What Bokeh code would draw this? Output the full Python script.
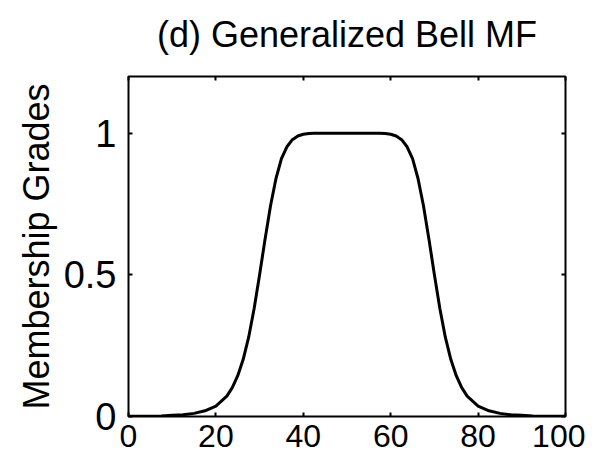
from bokeh.plotting import figure
from bokeh.models import LinearAxis, FixedTicker, Range1d, CustomJSTickFormatter
from bokeh.embed import file_html
from bokeh.resources import INLINE

# Values
x_vals = [0, 2.5, 5, 7.5, 10, 12.5, 15, 17.5, 20, 22.5, 23.75, 25, 26.25, 27.5, 28.75,
          30, 31.25, 32.5, 33.75, 35, 36.25, 37.5, 38.75, 40, 41.25, 42.5, 45, 50,
          55, 57.5, 58.75, 60, 61.25, 62.5, 63.75, 65, 66.25, 67.5, 68.75, 70, 71.25,
          72.5, 73.75, 75, 76.25, 77.5, 80, 82.5, 85, 87.5, 90, 92.5, 95, 97.5, 100]
mu_vals = [0.001, 0.001, 0.001, 0.002, 0.004, 0.006, 0.011, 0.02, 0.037, 0.072, 0.102, 0.144, 0.202, 0.28, 0.381,
           0.5, 0.626, 0.744, 0.84, 0.91, 0.952, 0.977, 0.99, 0.996, 0.999, 1.0, 1.0, 1.0,
           1.0, 1.0, 0.999, 0.996, 0.99, 0.977, 0.952, 0.91, 0.84, 0.744, 0.626, 0.5, 0.381,
           0.28, 0.202, 0.144, 0.102, 0.072, 0.037, 0.02, 0.011, 0.006, 0.004, 0.002, 0.001, 0.001, 0.001]
x_ticks = [0, 20, 40, 60, 80, 100]
y_ticks = [0, 0.5, 1]
y_tick_labels = {0: "0", 0.5: "0.5", 1: "1"}
title_text = "(d) Generalized Bell MF"

FONT = "Liberation Sans"

p = figure(width=585, height=454, output_backend="svg", toolbar_location=None,
           x_range=Range1d(0, 100), y_range=Range1d(0, 1.2),
           min_border_left=128, min_border_right=20, min_border_top=76, min_border_bottom=38)

p.xgrid.visible = False
p.ygrid.visible = False
p.outline_line_color = "black"
p.outline_line_width = 2
p.outline_line_alpha = 1.0
p.background_fill_color = "white"
p.border_fill_color = "white"

p.line(x_vals, mu_vals, line_color="black", line_width=3)

xa = p.xaxis[0]
xa.ticker = FixedTicker(ticks=x_ticks)
xa.major_label_text_font = FONT
xa.major_label_text_font_size = "32px"
xa.major_label_text_color = "black"
xa.major_label_standoff = 8
xa.major_tick_in = 4
xa.major_tick_out = 0
xa.major_tick_line_width = 2
xa.minor_tick_line_color = None
xa.axis_line_color = None

ya = p.yaxis[0]
ya.ticker = FixedTicker(ticks=y_ticks)
ya.major_label_overrides = y_tick_labels
ya.major_label_text_font = FONT
ya.major_label_text_font_size = "38px"
ya.major_label_text_color = "black"
ya.major_label_standoff = 12
ya.major_tick_in = 4
ya.major_tick_out = 0
ya.major_tick_line_width = 2
ya.minor_tick_line_color = None
ya.axis_line_color = None
ya.axis_label = "Membership Grades"
ya.axis_label_text_font = FONT
ya.axis_label_text_font_size = "36px"
ya.axis_label_text_font_style = "normal"
ya.axis_label_text_color = "black"
ya.axis_label_standoff = 4

# top axis: mirror ticks, carries the chart title as its label
top = LinearAxis(ticker=FixedTicker(ticks=x_ticks), major_label_text_font_size="0px",
                 major_tick_in=4, major_tick_out=0, major_tick_line_width=2,
                 minor_tick_line_color=None, axis_line_color=None,
                 formatter=CustomJSTickFormatter(code="return ''"),
                 axis_label=title_text, axis_label_text_font=FONT,
                 axis_label_text_font_size="36px", axis_label_text_font_style="normal",
                 axis_label_text_color="black", axis_label_standoff=22)
right = LinearAxis(ticker=FixedTicker(ticks=y_ticks), major_label_text_font_size="0px",
                   major_tick_in=4, major_tick_out=0, major_tick_line_width=2,
                   minor_tick_line_color=None, axis_line_color=None,
                   formatter=CustomJSTickFormatter(code="return ''"))
p.add_layout(top, "above")
p.add_layout(right, "right")

open("out.html", "w").write(file_html(p, INLINE))
